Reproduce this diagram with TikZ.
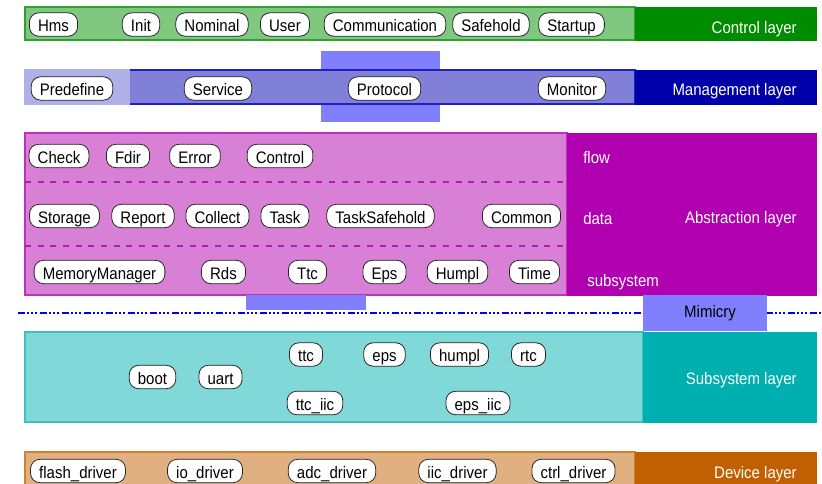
\documentclass[tikz,border=0pt]{standalone}
\usepackage{fontspec}
\setmainfont{Liberation Sans}[FakeStretch=0.9]
\usepackage{xcolor}
\usepackage{tikz}
\usetikzlibrary{positioning}
\definecolor{ctrllight}{HTML}{80C880}
\definecolor{ctrldark}{HTML}{008C00}
\definecolor{ctrlline}{HTML}{30A030}
\definecolor{mgmtpre}{HTML}{B0B0E8}
\definecolor{mgmtlight}{HTML}{8080D8}
\definecolor{mgmtdark}{HTML}{0000AA}
\definecolor{mgmtline}{HTML}{2020C0}
\definecolor{protohl}{HTML}{8080FF}
\definecolor{abslight}{HTML}{D880D5}
\definecolor{absdark}{HTML}{B000B0}
\definecolor{absline}{HTML}{C030C0}
\definecolor{sublight}{HTML}{80D8D8}
\definecolor{subdark}{HTML}{00B0B0}
\definecolor{subline}{HTML}{40C0C0}
\definecolor{devlight}{HTML}{E0B080}
\definecolor{devdark}{HTML}{C06000}
\definecolor{devline}{HTML}{D08030}
\definecolor{mimic}{HTML}{8080FF}
\definecolor{sepblue}{HTML}{0000F0}

\begin{document}
\begin{tikzpicture}[
  x=0.75pt, y=-0.75pt,
  font=\fontsize{12.5}{14}\selectfont,
  lbl/.style={text height=11pt, text depth=0pt, inner ysep=1pt},
  mod/.style={lbl, draw=black!85, fill=white, rounded corners=7pt, line width=0.6pt,
              minimum height=17.5pt, inner xsep=6.5pt},
  layertag/.style={lbl, text=white, anchor=east, inner xsep=0pt},
  rowtag/.style={lbl, text=white, anchor=west, inner xsep=0pt},
  band/.style={line width=0.8pt},
  rowline/.style={draw=absdark!90, line width=0.8pt, dash pattern=on 4.5pt off 5pt},
  sepline/.style={draw=sepblue, line width=1.5pt,
                  dash pattern=on 5pt off 2pt on 1.5pt off 1.5pt on 1.5pt off 1.5pt on 1.5pt off 2pt}
]
\clip (0,0) rectangle (822,484);

% control layer
\draw[band, draw=ctrlline, fill=ctrllight] (25,7) rectangle (635,40);
\filldraw[ctrldark] (635,7) rectangle (816,40);
\node[layertag] (ctrltag) at (797,26) {Control layer};
\node[mod] (hms) at (53.5,24.5) {Hms};
\node[mod] (init) at (141,24.5) {Init};
\node[mod] (nominal) at (212,24.5) {Nominal};
\node[mod] (user) at (285,24.5) {User};
\node[mod] (comm) at (385,24.5) {Communication};
\node[mod] (safehold) at (491,24.5) {Safehold};
\node[mod] (startup) at (571.5,24.5) {Startup};

% management layer
\fill[protohl] (321,51) rectangle (440,122);
\draw[band, draw=mgmtline, fill=mgmtlight] (25,70) rectangle (635,104);
\fill[mgmtpre] (24.4,69.4) rectangle (130,104.6);
\filldraw[mgmtdark] (635,70) rectangle (816,104);
\node[layertag] (mgmttag) at (797,88) {Management layer};
\node[mod] (predefine) at (72,88.5) {Predefine};
\node[mod] (service) at (218,88.5) {Service};
\node[mod] (protocol) at (384.5,88.5) {Protocol};
\node[mod] (monitor) at (572,88.5) {Monitor};

% abstraction layer
\draw[band, draw=absline, fill=abslight] (25,133) rectangle (567,295);
\filldraw[absdark] (567,133) rectangle (816,295);
\draw[rowline] (25,182) -- (567,182);
\draw[rowline] (25,246) -- (567,246);
\node[rowtag] (flowtag) at (583,156) {flow};
\node[rowtag] (datatag) at (583,216.7) {data};
\node[rowtag] (subtag) at (587,279) {subsystem};
\node[layertag] (abstag) at (797,216.5) {Abstraction layer};
\node[mod] (check) at (59,156) {Check};
\node[mod] (fdir) at (128,156) {Fdir};
\node[mod] (error) at (195,156) {Error};
\node[mod] (control) at (280,156) {Control};
\node[mod] (storage) at (64.5,216) {Storage};
\node[mod] (report) at (143,216) {Report};
\node[mod] (collect) at (217.5,216) {Collect};
\node[mod] (task) at (285,216) {Task};
\node[mod] (tasksafe) at (380.5,216) {TaskSafehold};
\node[mod] (common) at (521.5,216) {Common};
\node[mod] (memmgr) at (99.5,272) {MemoryManager};
\node[mod] (rds) at (223.5,272) {Rds};
\node[mod] (ttcA) at (307.5,272) {Ttc};
\node[mod] (epsA) at (384.5,272) {Eps};
\node[mod] (humplA) at (457.5,272) {Humpl};
\node[mod] (time) at (534.5,272) {Time};

% mimicry and separator
\draw[sepline] (18,313) -- (822,313);
\fill[mimic] (246,295) rectangle (366,310);
\fill[mimic] (643,295) rectangle (767,331);
\node[lbl] (mimicry) at (710,309.7) {Mimicry};

% subsystem layer
\draw[band, draw=subline, fill=sublight] (25,332) rectangle (643,422);
\filldraw[subdark] (643,332) rectangle (816,422);
\node[layertag] (subsystag) at (797,377.5) {Subsystem layer};
\node[mod] (boot) at (152.5,377) {boot};
\node[mod] (uart) at (220.5,377) {uart};
\node[mod] (ttc) at (306,354.5) {ttc};
\node[mod] (eps) at (384.5,354.5) {eps};
\node[mod] (humpl) at (459.5,354.5) {humpl};
\node[mod] (rtc) at (528.5,354.5) {rtc};
\node[mod] (ttciic) at (315,403) {ttc\_iic};
\node[mod] (epsiic) at (478,403) {eps\_iic};

% device layer
\draw[band, draw=devline, fill=devlight] (25,452) rectangle (635,495);
\filldraw[devdark] (635,452) rectangle (816,495);
\node[layertag] (devtag) at (797,470.7) {Device layer};
\node[mod] (flash) at (78,471) {flash\_driver};
\node[mod] (io) at (205,471) {io\_driver};
\node[mod] (adc) at (332,471) {adc\_driver};
\node[mod] (iic) at (457.5,471) {iic\_driver};
\node[mod] (ctrldrv) at (573.5,471) {ctrl\_driver};
\end{tikzpicture}
\end{document}
